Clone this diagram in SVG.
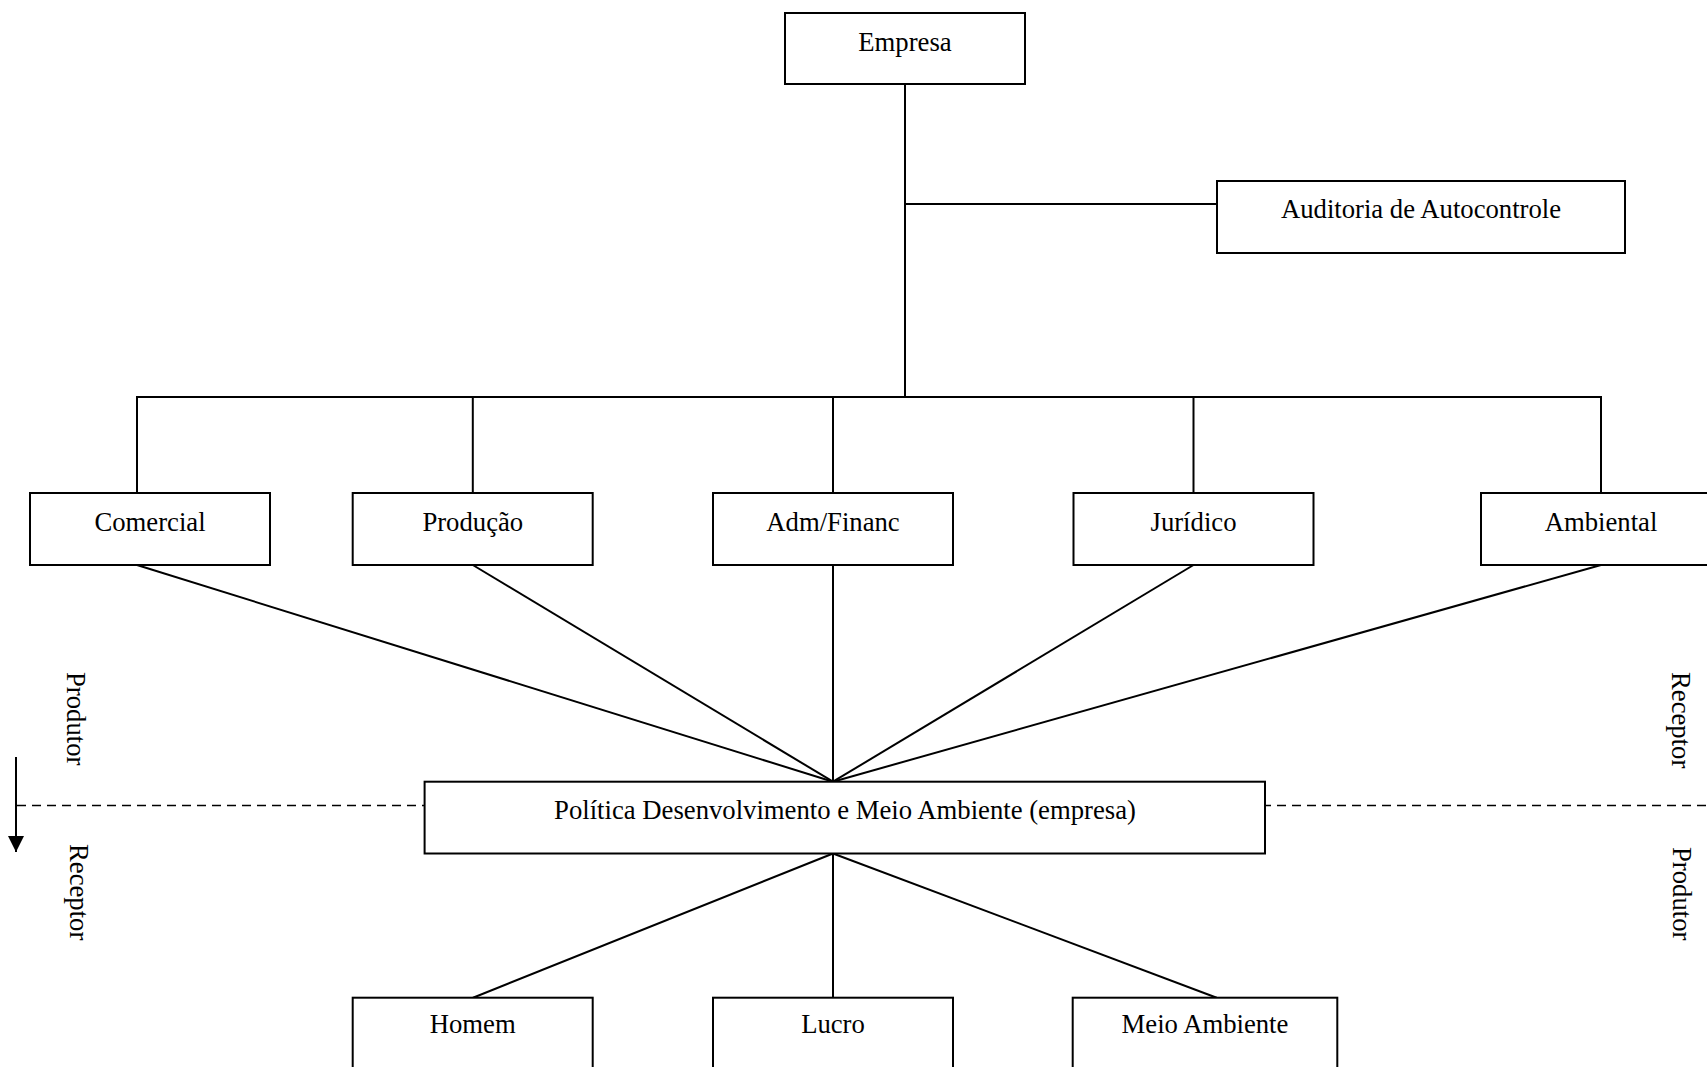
<svg xmlns="http://www.w3.org/2000/svg" width="1707" height="1067" viewBox="0 0 1707 1067">
<style>
.box{fill:#fff;stroke:#000;stroke-width:2}
.ln{stroke:#000;stroke-width:2;fill:none}
.dash{stroke:#000;stroke-width:1.6;stroke-dasharray:9 6;fill:none}
text{font-family:"Liberation Serif","Times New Roman",serif;font-size:26.7px;fill:#000}
.c{text-anchor:middle}
</style>
<defs>
<marker id="arr" viewBox="0 0 16 16" refX="16" refY="8" markerWidth="16" markerHeight="16" markerUnits="userSpaceOnUse" orient="auto">
<path d="M0,0 L16,8 L0,16 Z" fill="#000"/>
</marker>
</defs>
<g id="connectors">
<line class="dash" x1="17" y1="805.5" x2="1707" y2="805.5"/>
<line class="ln" x1="16" y1="757" x2="16" y2="852" marker-end="url(#arr)"/>
<path class="ln" d="M905,85 V397"/>
<path class="ln" d="M905,204 H1217"/>
<path class="ln" d="M137,493 V397 H1601 V493"/>
<path class="ln" d="M472.8,397 V493"/>
<path class="ln" d="M833,397 V493"/>
<path class="ln" d="M1193.5,397 V493"/>
<path class="ln" d="M137,565 L833,781.7"/>
<path class="ln" d="M472.8,565 L833,781.7"/>
<path class="ln" d="M833,565 L833,781.7"/>
<path class="ln" d="M1193.5,565 L833,781.7"/>
<path class="ln" d="M1601,565 L833,781.7"/>
<path class="ln" d="M833,853.5 L473,997.7"/>
<path class="ln" d="M833,853.5 L833,997.7"/>
<path class="ln" d="M833,853.5 L1216.7,997.7"/>
</g>
<g id="empresa"><rect class="box" x="785" y="13" width="240" height="71"/><text class="c" x="905" y="51">Empresa</text></g>
<g id="auditoria"><rect class="box" x="1217" y="181" width="408" height="72"/><text class="c" x="1421" y="218">Auditoria de Autocontrole</text></g>
<g id="comercial"><rect class="box" x="30" y="493" width="240" height="72"/><text class="c" x="150" y="530.5">Comercial</text></g>
<g id="producao"><rect class="box" x="352.7" y="493" width="240" height="72"/><text class="c" x="472.8" y="530.5">Produção</text></g>
<g id="admfinanc"><rect class="box" x="713" y="493" width="240" height="72"/><text class="c" x="833" y="530.5">Adm/Financ</text></g>
<g id="juridico"><rect class="box" x="1073.5" y="493" width="240" height="72"/><text class="c" x="1193.5" y="530.5">Jurídico</text></g>
<g id="ambiental"><rect class="box" x="1481" y="493" width="240" height="72"/><text class="c" x="1601" y="530.5">Ambiental</text></g>
<g id="politica"><rect class="box" x="424.6" y="781.7" width="840.4" height="71.8"/><text class="c" x="845" y="819">Política Desenvolvimento e Meio Ambiente (empresa)</text></g>
<g id="homem"><rect class="box" x="352.7" y="997.7" width="240" height="72"/><text class="c" x="472.7" y="1033">Homem</text></g>
<g id="lucro"><rect class="box" x="713" y="997.7" width="240" height="72"/><text class="c" x="833" y="1033">Lucro</text></g>
<g id="meioambiente"><rect class="box" x="1072.7" y="997.7" width="264.6" height="72"/><text class="c" x="1205" y="1033">Meio Ambiente</text></g>
<g id="labels">
<text transform="translate(67,672) rotate(90)">Produtor</text>
<text transform="translate(70,844) rotate(90)">Receptor</text>
<text transform="translate(1672,672) rotate(90)">Receptor</text>
<text transform="translate(1673,847) rotate(90)">Produtor</text>
</g>
</svg>
